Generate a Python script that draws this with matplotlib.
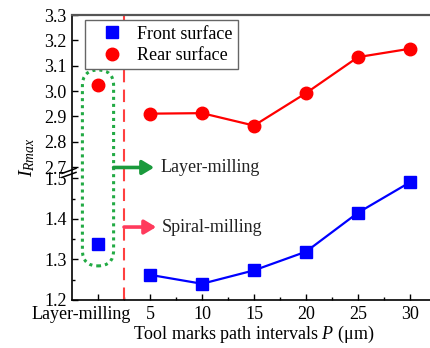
import numpy as np
import matplotlib
matplotlib.use("Agg")
import matplotlib.pyplot as plt
import matplotlib.transforms as mtransforms
from matplotlib.patches import FancyBboxPatch
from matplotlib.lines import Line2D

plt.rcParams["font.family"] = ["Liberation Serif", "DejaVu Serif"]
plt.rcParams["mathtext.fontset"] = "custom"
plt.rcParams["mathtext.rm"] = "Liberation Serif"
plt.rcParams["mathtext.it"] = "Liberation Serif:italic"

# ---- data ----
layer_x = 0                                  # "Layer-milling" category position
spiral_p = [5, 10, 15, 20, 25, 30]           # tool-mark path intervals P (um)
front_layer = 1.337
rear_layer = 3.024
front_spiral = [1.262, 1.240, 1.273, 1.319, 1.415, 1.490]
rear_spiral = [2.911, 2.913, 2.864, 2.992, 3.134, 3.167]

x_ticks = [0, 5, 10, 15, 20, 25, 30]
x_ticklabels = ["Layer-milling", "5", "10", "15", "20", "25", "30"]
y_ticks = [1.2, 1.3, 1.4, 1.5, 2.7, 2.8, 2.9, 3.0, 3.1, 3.2, 3.3]

FS = 13

# ---- broken y scale: 1.2-1.5 (lower) and 2.7-3.3 (upper) ----
LO_K, UP_K, GAP = 405.0, 253.0, 11.0
LO_TOP = (1.5 - 1.2) * LO_K
UP_BASE = LO_TOP + GAP


def fwd(y):
    y = np.asarray(y, dtype=float)
    lower = (y - 1.2) * LO_K
    mid = LO_TOP + (y - 1.5) / 1.2 * GAP
    upper = UP_BASE + (y - 2.7) * UP_K
    return np.where(y <= 1.5, lower, np.where(y >= 2.7, upper, mid))


def inv(v):
    v = np.asarray(v, dtype=float)
    lower = v / LO_K + 1.2
    mid = 1.5 + (v - LO_TOP) / GAP * 1.2
    upper = (v - UP_BASE) / UP_K + 2.7
    return np.where(v <= LO_TOP, lower, np.where(v >= UP_BASE, upper, mid))


fig = plt.figure(figsize=(4.3, 3.48), dpi=100)
ax = fig.add_axes([72 / 430, 48 / 348, 364 / 430, 285 / 348])
ax.set_yscale("function", functions=(fwd, inv))
ax.set_xlim(-2.5, 32.5)
ax.set_ylim(1.2, 3.3)

# ticks
ax.set_xticks(x_ticks, x_ticklabels)
ax.set_xticks(np.arange(2.5, 33, 5), minor=True)
ax.set_yticks(y_ticks, [f"{v:.1f}" for v in y_ticks])
ax.set_yticks([1.25, 1.35, 1.45], minor=True)
ax.tick_params(which="both", direction="in", labelsize=FS, width=1.0)
ax.tick_params(which="major", length=4)
ax.tick_params(which="minor", length=2.5)
ax.tick_params(axis="x", pad=4)
ax.tick_params(axis="y", pad=4)
first = ax.get_xticklabels()[0]
first.set_transform(first.get_transform() +
                    mtransforms.ScaledTranslation(-0.17, 0, fig.dpi_scale_trans))

for side in ("left", "bottom"):
    ax.spines[side].set_linewidth(1.2)
ax.spines["top"].set_color("#555555")
ax.spines["top"].set_linewidth(1.6)
ax.spines["right"].set_color("#555555")

# separator between the two milling strategies
ax.axvline(2.5, color="#ff4040", lw=1.5, dashes=(6, 3.5), zorder=2)

# data
ax.plot(spiral_p, front_spiral, color="#0000ff", lw=1.6, marker="s",
        ms=8, mec="#0000ff", zorder=5)
ax.plot(spiral_p, rear_spiral, color="#ff0000", lw=1.6, marker="o",
        ms=9, mec="#ff0000", zorder=5)
ax.plot([layer_x], [front_layer], ls="none", marker="s", ms=8,
        color="#0000ff", zorder=5)
ax.plot([layer_x], [rear_layer], ls="none", marker="o", ms=9,
        color="#ff0000", zorder=5)

# dotted capsule around the layer-milling results
(x0, y0), (x1, y1) = ax.transData.transform([(layer_x - 1.5, 1.284),
                                             (layer_x + 1.5, 3.083)])
capsule = FancyBboxPatch((x0, y0), x1 - x0, y1 - y0,
                         boxstyle=f"round,pad=0,rounding_size={(x1 - x0) / 2:.2f}",
                         transform=mtransforms.IdentityTransform(),
                         fc="none", ec="#22aa44", lw=2.2, ls=(0, (1, 1.3)),
                         zorder=3, clip_on=False)
ax.add_artist(capsule)

# arrows with labels
mixed = ("data", "axes fraction")
ax.annotate("", xy=(5.4, 0.465), xytext=(1.5, 0.465), xycoords=mixed,
            textcoords=mixed,
            arrowprops=dict(arrowstyle="-|>,head_length=0.5,head_width=0.3",
                            color="#1a9a3c", lw=2.6, mutation_scale=14,
                            shrinkA=0, shrinkB=0), zorder=6)
ax.text(6.0, 0.465, "Layer-milling", transform=ax.get_xaxis_transform(),
        ha="left", va="center", fontsize=FS, color="#222222", zorder=6)
ax.annotate("", xy=(5.6, 0.256), xytext=(2.5, 0.256), xycoords=mixed,
            textcoords=mixed,
            arrowprops=dict(arrowstyle="-|>,head_length=0.5,head_width=0.3",
                            color="#ff3a5c", lw=2.6, mutation_scale=14,
                            shrinkA=0, shrinkB=0), zorder=6)
ax.text(6.1, 0.256, "Spiral-milling", transform=ax.get_xaxis_transform(),
        ha="left", va="center", fontsize=FS, color="#222222", zorder=6)

# axis-break marks on the left spine
bx, by = ax.transAxes.transform((0, 0.446))
for dy in (-2.0, 2.0):
    ax.add_artist(Line2D([bx - 10, bx + 4], [by + dy - 2.5, by + dy + 2.5],
                         transform=mtransforms.IdentityTransform(),
                         color="black", lw=1.1, clip_on=False, zorder=7))

# legend
handles = [Line2D([], [], ls="none", marker="s", ms=8, color="#0000ff"),
           Line2D([], [], ls="none", marker="o", ms=9, color="#ff0000")]
leg = ax.legend(handles, ["Front surface", "Rear surface"], loc="upper left",
                bbox_to_anchor=(0.036, 0.982), borderaxespad=0, fontsize=FS,
                fancybox=False, framealpha=1, edgecolor="#666666",
                handlelength=2.4, handletextpad=0.2, labelspacing=0.25,
                borderpad=0.3)
leg.get_frame().set_linewidth(1.0)
leg.set_zorder(8)

ax.set_xlabel(r"Tool marks path intervals $P$ (μm)", fontsize=FS, labelpad=1)
ax.set_ylabel(r"$I_{Rmax}$", fontsize=14)
ax.yaxis.set_label_coords(-0.097, 0.5)

fig.savefig("out.png", dpi=100)
